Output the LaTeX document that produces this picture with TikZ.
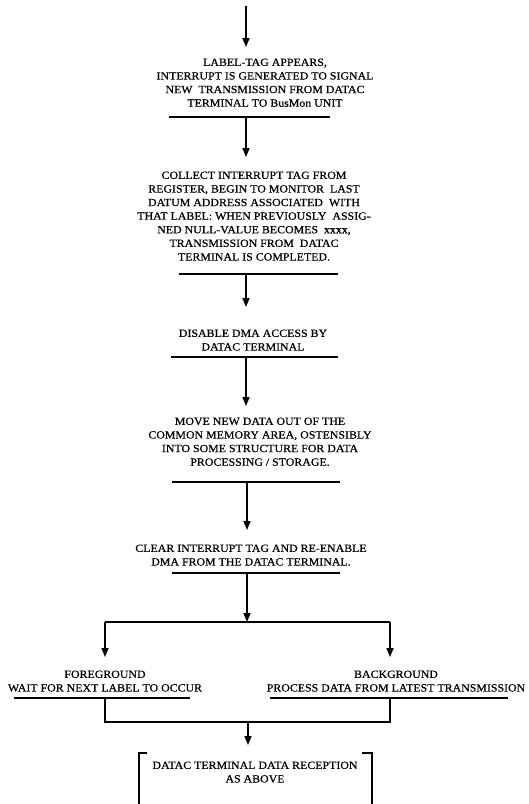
\documentclass[tikz,border=0pt]{standalone}
\usepackage{fontspec}
\setmainfont{Liberation Serif}[FakeStretch=1.08,FakeBold=0.6]
\usetikzlibrary{arrows.meta}
\begin{document}
\begin{tikzpicture}[x=1pt,y=-1pt,
  txt/.style={font=\fontsize{11}{13.6}\selectfont, align=center, anchor=north, inner xsep=0pt},
  arr/.style={line width=1.6pt, -{Triangle[length=9pt,width=7pt]}},
  ln/.style={line width=1.3pt},
]
\useasboundingbox (0,0) rectangle (528,804);

% top entry
\coordinate (top) at (246,6);
\node[txt, inner ysep=11.4pt] (t1) at (265,47) {LABEL-TAG APPEARS,\\ INTERRUPT IS GENERATED TO SIGNAL\\ NEW\ \ TRANSMISSION FROM DATAC\\ TERMINAL TO BusMon UNIT};
\draw[arr] (top) -- (top |- t1.north);

% block 1 underline
\coordinate (u1) at (246,117);
\draw[ln] (169,117) -- (330,117);
\node[txt, inner ysep=14.4pt] (t2) at (254,157) {COLLECT INTERRUPT TAG FROM\\ REGISTER, BEGIN TO MONITOR\ \ LAST\\ DATUM ADDRESS ASSOCIATED\ \ WITH\\ THAT LABEL: WHEN PREVIOUSLY\ \ ASSIG-\\ NED NULL-VALUE BECOMES\ \ xxxx,\\ TRANSMISSION FROM\ \ DATAC\\ TERMINAL IS COMPLETED.};
\draw[arr] (u1) -- (u1 |- t2.north);

% block 2 underline
\coordinate (u2) at (246,274);
\draw[ln] (179,274) -- (338,274);
\node[txt, inner ysep=22.4pt] (t3) at (253,307) {DISABLE DMA ACCESS BY\\ DATAC TERMINAL};
\draw[arr] (u2) -- (u2 |- t3.north);

% block 3 underline
\coordinate (u3) at (246,357);
\draw[ln] (171,357) -- (338,357);
\node[txt, inner ysep=11.4pt] (t4) at (260,406) {MOVE NEW DATA OUT OF THE\\ COMMON MEMORY AREA, OSTENSIBLY\\ INTO SOME STRUCTURE FOR DATA\\ PROCESSING / STORAGE.};
\draw[arr] (u3) -- (u3 |- t4.north);

% block 4 underline
\coordinate (u4) at (247,482);
\draw[ln] (172,482) -- (340,482);
\node[txt, inner ysep=14.4pt] (t5) at (251,530) {CLEAR INTERRUPT TAG AND RE-ENABLE\\ DMA FROM THE DATAC TERMINAL.};
\draw[arr] (u4) -- (u4 |- t5.north);

% block 5 underline and branch
\coordinate (u5) at (247,573);
\draw[ln] (172,573) -- (340,573);
\coordinate (b) at (247,622);
\draw[arr] (u5) -- (b);
\coordinate (bl) at (105,622);
\coordinate (br) at (390,622);
\draw[ln] (bl) -- (br);

\node[txt, inner ysep=13.4pt] (fg) at (105,657) {FOREGROUND\\ WAIT FOR NEXT LABEL TO OCCUR};
\node[txt, inner ysep=13.4pt] (bg) at (396,657) {BACKGROUND\\ PROCESS DATA FROM LATEST TRANSMISSION};
\draw[arr] (bl) -- (bl |- fg.north);
\draw[arr] (br) -- (br |- bg.north);

% underlines of the two branches and join
\draw[ln] (14,698) -- (190,698);
\draw[ln] (270,698) -- (508,698);
\coordinate (jl) at (105,698);
\coordinate (jr) at (390,698);
\draw[ln] (jl) -- (105,722) -- (390,722) -- (jr);
\coordinate (j) at (248,722);

\node[txt, inner ysep=16.4pt] (fin) at (255,745) {DATAC TERMINAL DATA RECEPTION\\ AS ABOVE};
\draw[arr] (j) -- (j |- fin.north);

% brackets
\draw[ln] (147,753) -- (139,753) -- (139,804);
\draw[ln] (362,753) -- (372,753) -- (372,804);
\end{tikzpicture}
\end{document}
